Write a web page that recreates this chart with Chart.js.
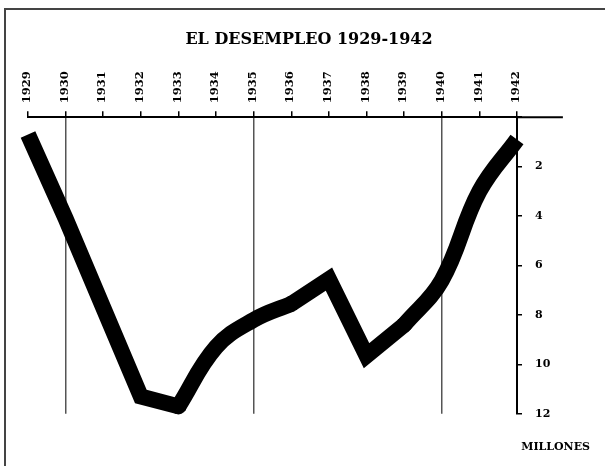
<!DOCTYPE html>
<html>
<head>
<meta charset="utf-8">
<script src="https://cdn.jsdelivr.net/npm/chart.js@4"></script>
<style>
  body { margin: 0; background: #fff; }
  #caja { position: relative; width: 605px; height: 466px; overflow: hidden; }
  #marco { position: absolute; left: 4px; top: 8px; width: 640px; height: 500px;
           border-left: 2px solid #444; border-top: 2px solid #444; }
  #grafico { position: absolute; left: 0; top: 0; }
</style>
</head>
<body>
<div id="caja">
  <div id="marco"></div>
  <canvas id="grafico" width="605" height="466"></canvas>
</div>
<script>
// Años del eje superior
var anios = ['1929', '1930', '1931', '1932', '1933', '1934', '1935',
             '1936', '1937', '1938', '1939', '1940', '1941', '1942'];
// Parados (millones)
var parados = [0.7, 4.1, 7.7, 11.3, 11.7, 9.3, 8.2, 7.55, 6.55, 9.65, 8.4, 6.6, 3.0, 0.9];
// Marcas del eje de millones
var marcasMillones = [0, 2, 4, 6, 8, 10, 12];
// Años con línea vertical
var aniosGuia = ['1930', '1935', '1940'];

// Tramos de la curva: [desde, hasta, tensión]
var tramos = [[0, 4, 0], [4, 7, 0.4], [7, 10, 0], [10, 13, 0.4]];
var uniones = [4, 7, 10];

var fuente = "'DejaVu Serif', serif";

var datasets = tramos.map(function(t) {
    return {
        data: parados.map(function(v, i) { return (i >= t[0] && i <= t[1]) ? v : null; }),
        borderColor: '#000',
        borderWidth: 16,
        borderCapStyle: 'butt',
        borderJoinStyle: 'miter',
        tension: t[2],
        pointRadius: 0,
        spanGaps: false,
        clip: false
    };
});
// puntos redondos en las uniones de los tramos
datasets.push({
    data: parados.map(function(v, i) { return uniones.indexOf(i) >= 0 ? v : null; }),
    showLine: false,
    pointRadius: 8,
    pointBackgroundColor: '#000',
    pointBorderWidth: 0,
    clip: false
});

// prolonga la línea del eje superior a la derecha
var prolongarEje = {
    id: 'prolongarEje',
    afterDraw: function(chart) {
        var x = chart.scales.x;
        var paso = x.getPixelForValue(13) - x.getPixelForValue(12);
        var ctx = chart.ctx;
        ctx.save();
        ctx.strokeStyle = '#000';
        ctx.lineWidth = 2;
        ctx.beginPath();
        ctx.moveTo(chart.chartArea.right - 1, chart.chartArea.top);
        ctx.lineTo(chart.chartArea.right + paso * 1.22, chart.chartArea.top);
        ctx.stroke();
        ctx.restore();
    }
};

new Chart(document.getElementById('grafico'), {
    type: 'line',
    data: { labels: anios, datasets: datasets },
    plugins: [prolongarEje],
    options: {
        responsive: false,
        animation: false,
        events: [],
        layout: { padding: { left: 28, right: 15, top: 10, bottom: 4 } },
        plugins: {
            legend: { display: false },
            tooltip: { enabled: false },
            title: {
                display: true,
                text: 'EL DESEMPLEO 1929-1942',
                color: '#000',
                font: { family: fuente, size: 16, weight: 'bold' },
                padding: { top: 20, bottom: 14 }
            },
            subtitle: {
                display: true,
                position: 'bottom',
                align: 'end',
                text: 'MILLONES',
                color: '#000',
                font: { family: fuente, size: 11, weight: 'bold' },
                padding: { top: 27, bottom: 8 }
            }
        },
        scales: {
            x: {
                position: 'top',
                grid: {
                    color: function(c) {
                        return aniosGuia.indexOf(anios[c.index]) >= 0 ? '#555' : 'rgba(0,0,0,0)';
                    },
                    lineWidth: 1.5,
                    tickColor: '#000',
                    tickLength: 6
                },
                border: { color: '#000', width: 2 },
                ticks: {
                    color: '#000',
                    font: { family: fuente, size: 11.5, weight: 'bold' },
                    minRotation: 90,
                    maxRotation: 90,
                    autoSkip: false,
                    labelOffset: 13,
                    padding: 8
                }
            },
            y: {
                position: 'right',
                reverse: true,
                min: 0,
                max: 12,
                afterFit: function(scale) { scale.width = 73; },
                afterBuildTicks: function(scale) {
                    scale.ticks = marcasMillones.map(function(v) { return { value: v }; });
                },
                grid: { drawOnChartArea: false, color: '#000', lineWidth: 1.5, tickLength: 5 },
                border: { color: '#000', width: 2 },
                ticks: {
                    color: '#000',
                    font: { family: fuente, size: 11, weight: 'bold' },
                    padding: 13,
                    callback: function(v) { return v === 0 ? '' : v; }
                }
            }
        }
    }
});
</script>
</body>
</html>
